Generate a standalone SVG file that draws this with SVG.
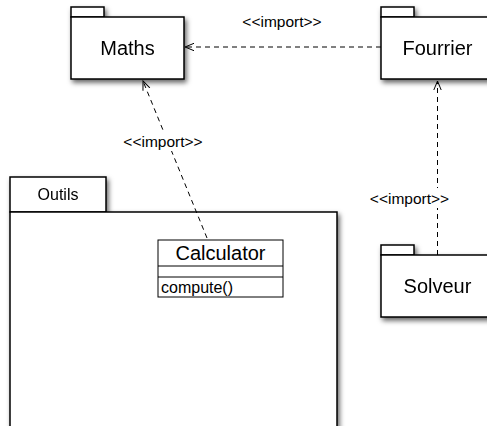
<svg xmlns="http://www.w3.org/2000/svg" width="487" height="426" viewBox="0 0 487 426">
<defs>
<filter id="sh" x="-20%" y="-20%" width="140%" height="140%">
<feDropShadow dx="2" dy="3" stdDeviation="2.5" flood-color="#000" flood-opacity="0.6"/>
</filter>
<marker id="open" markerWidth="12" markerHeight="10" refX="9" refY="5" orient="auto" markerUnits="userSpaceOnUse">
<path d="M0,1.3 L9,5 L0,8.7" fill="none" stroke="#000" stroke-width="1"/>
</marker>
<style>
.pkg{fill:#fff;stroke:#000;stroke-width:1.5}
.box{fill:#fff;stroke:#000;stroke-width:1}
.big{font-family:"Liberation Sans",Arial,sans-serif;font-size:20px;fill:#000;text-anchor:middle}
.sm{font-family:"Liberation Sans",Arial,sans-serif;font-size:15.5px;fill:#000;text-anchor:middle}
.dep{fill:none;stroke:#000;stroke-width:1;stroke-dasharray:5,4}
</style>
</defs>
<g id="Maths" filter="url(#sh)">
<rect class="pkg" x="71" y="7" width="33" height="10"/>
<rect class="pkg" x="71" y="17" width="113" height="62"/>
<text class="big" x="127.5" y="55">Maths</text>
</g>
<g id="Fourrier" filter="url(#sh)">
<rect class="pkg" x="381" y="7" width="33" height="10"/>
<rect class="pkg" x="381" y="17" width="113" height="62"/>
<text class="big" x="437.5" y="55">Fourrier</text>
</g>
<g id="Solveur" filter="url(#sh)">
<rect class="pkg" x="381" y="245" width="33" height="10"/>
<rect class="pkg" x="381" y="255" width="113" height="62"/>
<text class="big" x="437.5" y="293">Solveur</text>
</g>
<g id="Outils" filter="url(#sh)">
<rect class="pkg" x="10" y="177" width="96" height="35"/>
<rect class="pkg" x="10" y="212" width="327" height="230"/>
<text class="sm" x="58" y="200" style="font-size:16px">Outils</text>
</g>
<g id="Calculator">
<rect class="box" x="158" y="240" width="125" height="57"/>
<line x1="158" y1="266" x2="283" y2="266" stroke="#000" stroke-width="1"/>
<line x1="158" y1="277" x2="283" y2="277" stroke="#000" stroke-width="1"/>
<text class="big" x="220.5" y="260">Calculator</text>
<text class="sm" x="161" y="293" style="text-anchor:start;font-size:16px">compute()</text>
</g>
<g id="connectors">
<line class="dep" x1="381" y1="47" x2="185" y2="47" marker-end="url(#open)"/>
<text class="sm" x="282" y="27">&lt;&lt;import&gt;&gt;</text>
<line class="dep" x1="207" y1="238" x2="143" y2="81" marker-end="url(#open)"/>
<rect x="120" y="131" width="86" height="20" fill="#fff"/>
<text class="sm" x="163" y="147">&lt;&lt;import&gt;&gt;</text>
<line class="dep" x1="437.5" y1="255" x2="437.5" y2="81" marker-end="url(#open)"/>
<rect x="365" y="188" width="90" height="20" fill="#fff"/>
<text class="sm" x="409.5" y="204">&lt;&lt;import&gt;&gt;</text>
</g>
</svg>
